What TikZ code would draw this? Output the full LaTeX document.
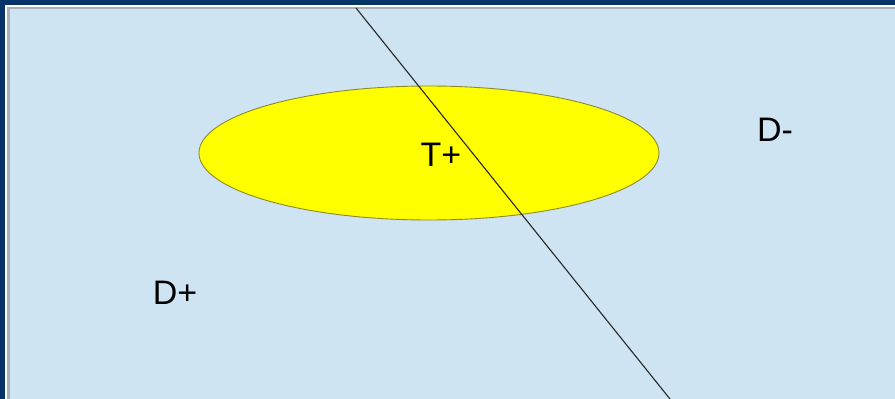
\documentclass[tikz,border=0pt]{standalone}
\usepackage{fontspec}
\setmainfont{Liberation Sans}
\usetikzlibrary{shapes.geometric}
\definecolor{frame}{HTML}{063468}
\definecolor{panel}{HTML}{CFE4F2}
\definecolor{rim}{HTML}{A8B0B8}
\definecolor{olive}{HTML}{8A8A2A}
\definecolor{lemon}{HTML}{FFFF00}

\begin{document}
\begin{tikzpicture}[x=1pt, y=-1pt,
    region/.style={ellipse, draw=olive, fill=lemon, line width=0.9pt, inner sep=0pt, minimum width=460pt, minimum height=134pt},
    lbl/.style={font=\fontsize{34}{36}\selectfont, text=black, inner sep=0pt},
    cut/.style={draw=black!85, line width=1.1pt},
]
\useasboundingbox (0,0) rectangle (895,399);
\clip (0,0) rectangle (895,399);
% slide frame
\fill[frame] (0,0) rectangle (895,399);
\fill[white] (5,5) rectangle (905,409);
\fill[rim] (7,7) rectangle (905,409);
\fill[panel] (10,9) rectangle (905,409);

% target set
\node[region] (tplus) at (429,153) {};

% separating line
\coordinate (top) at (356,8);
\coordinate (bot) at (670,399);
\draw[cut] (top) -- (bot);

% labels
\node[lbl] (tlab) at (441,155) {T+};
\node[lbl] (dminus) at (775,130) {D-};
\node[lbl] (dplus) at (175,293) {D+};
\end{tikzpicture}
\end{document}
